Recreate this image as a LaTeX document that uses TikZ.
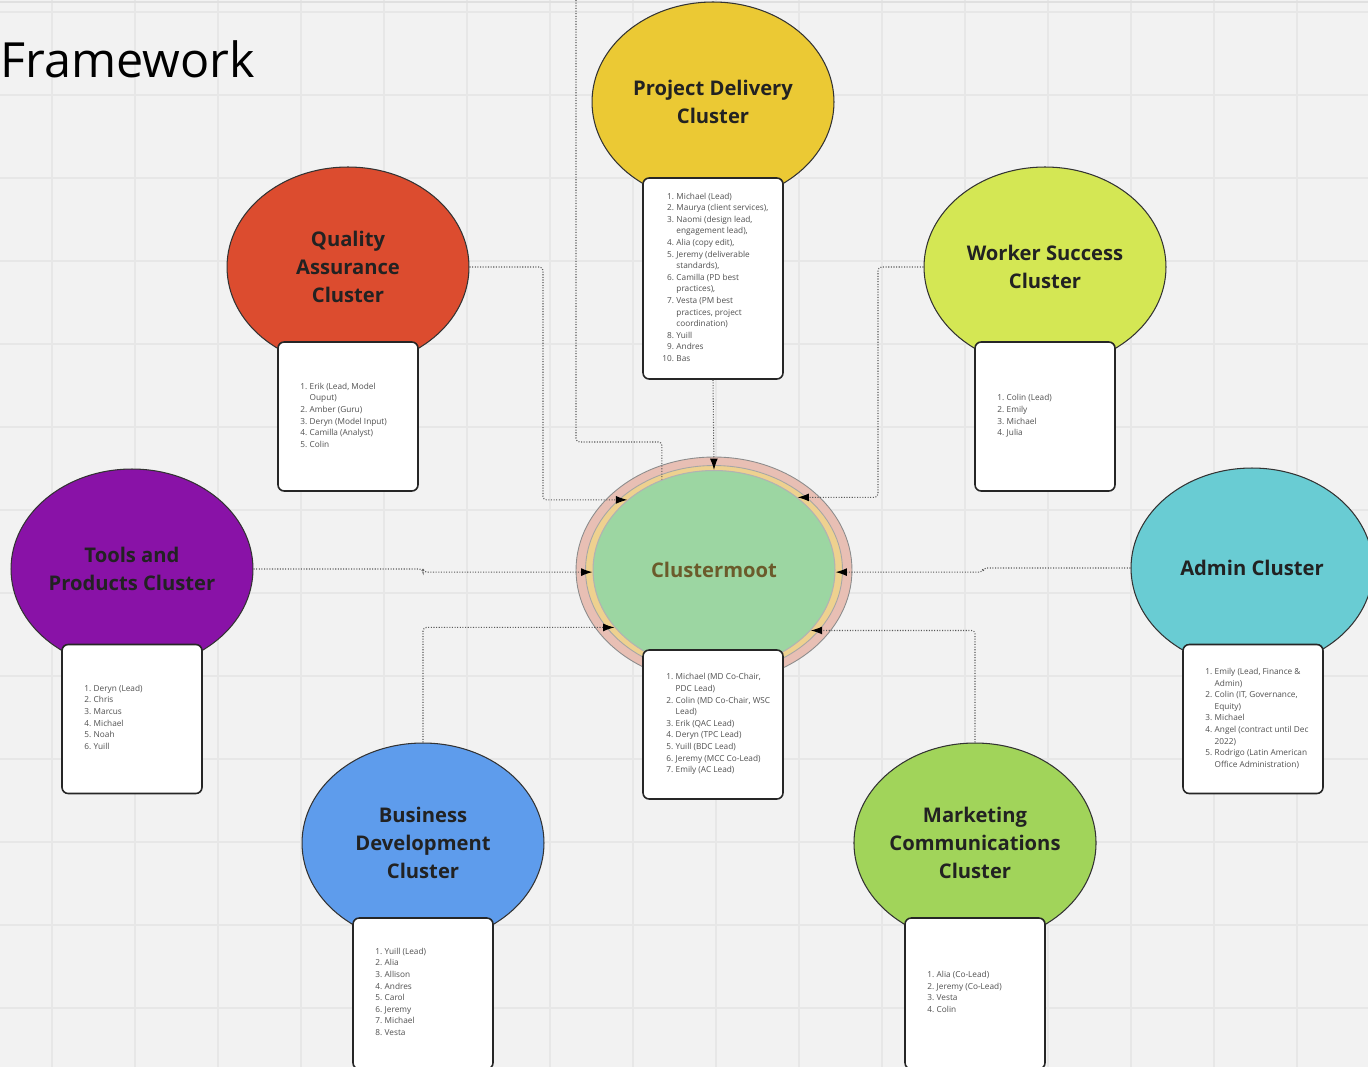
\documentclass[tikz,border=0pt]{standalone}
\usepackage{fontspec}
\setmainfont{Open Sans}
\usetikzlibrary{shapes.geometric, arrows.meta}

\definecolor{boardgray}{HTML}{F2F2F2}
\definecolor{gridgray}{HTML}{E7E7E7}
\definecolor{pdyellow}{HTML}{EBC934}
\definecolor{qared}{HTML}{DC4C2F}
\definecolor{wslime}{HTML}{D4E754}
\definecolor{tppurple}{HTML}{8912A7}
\definecolor{acteal}{HTML}{69CCD3}
\definecolor{bdblue}{HTML}{5E9CEC}
\definecolor{mcgreen}{HTML}{A1D45A}
\definecolor{mootpink}{HTML}{E8BFB4}
\definecolor{mootgold}{HTML}{EED18F}
\definecolor{mootgreen}{HTML}{9CD6A2}
\definecolor{mootword}{HTML}{6B5B2B}
\definecolor{titleink}{HTML}{222222}
\definecolor{listink}{HTML}{505050}

\tikzset{
  cluster/.style={ellipse, draw=black!80, line width=0.6pt, inner sep=0pt,
    minimum width=4.84cm, minimum height=4cm, align=center, text=titleink,
    font=\bfseries\fontsize{11.5}{15.9}\selectfont},
  listbox/.style={draw=black!85, fill=white, rounded corners=3.5pt, line width=0.9pt,
    minimum width=2.8cm, minimum height=2.98cm},
  names/.style={anchor=west, inner sep=0pt, text=listink,
    font=\fontsize{4.7}{6.6}\selectfont},
  feed/.style={draw=black!65, dash pattern=on 0.6pt off 0.9pt, line width=0.6pt,
    rounded corners=2pt},
  tip/.style={-{Latex[length=6.5pt,width=4.5pt,black]}}
}

\begin{document}
\begin{tikzpicture}[x=0.02cm, y=-0.02cm]
\useasboundingbox (0,0) rectangle (1368,1067);
\fill[boardgray] (0,0) rectangle (1368,1067);
\foreach \gx in {52,135,...,1368} \draw[gridgray, line width=0.6pt] (\gx,0) -- (\gx,1067);
\foreach \gy in {12,95,...,1067} \draw[gridgray, line width=0.6pt] (0,\gy) -- (1368,\gy);
\draw[black!12, line width=0.8pt] (0,2) -- (1368,2);

\node[anchor=base west, inner sep=0pt, font=\fontsize{27.6}{32}\selectfont] (Title) at (0,78) {Framework};

% clusters
\node[cluster, fill=pdyellow] (Delivery) at (713,102) {Project Delivery\\Cluster};
\node[cluster, fill=qared] (Quality) at (348,267) {Quality\\Assurance\\Cluster};
\node[cluster, fill=wslime] (Worker) at (1045,267) {Worker Success\\Cluster};
\node[cluster, fill=tppurple] (Tools) at (132,569) {Tools and\\Products Cluster};
\node[cluster, fill=acteal] (Admin) at (1252,568) {Admin Cluster};
\node[cluster, fill=bdblue] (Business) at (423,843) {Business\\Development\\Cluster};
\node[cluster, fill=mcgreen] (Marketing) at (975,843) {Marketing\\Communications\\Cluster};

\node[ellipse, draw=black!45, fill=mootpink, line width=0.5pt, minimum width=5.52cm, minimum height=4.52cm] (Moot Outer) at (714,570) {};
\node[ellipse, draw=black!35, fill=mootgold, line width=0.5pt, minimum width=5.14cm, minimum height=4.18cm] (Moot Ring) at (714,570) {};
\node[cluster, draw=black!30, fill=mootgreen, text=mootword, minimum height=3.98cm] (Clustermoot) at (714,570) {Clustermoot};

% member lists
\node[listbox, minimum height=4.02cm] (Delivery List) at (713,278.5) {};
\node[names] (Delivery Names) at (662,278) {\begin{tabular}{@{}r@{\hspace{1.4pt}}l@{}}
1. & Michael (Lead)\\
2. & Maurya (client services),\\
3. & Naomi (design lead,\\
 & engagement lead),\\
4. & Alia (copy edit),\\
5. & Jeremy (deliverable\\
 & standards),\\
6. & Camilla (PD best\\
 & practices),\\
7. & Vesta (PM best\\
 & practices, project\\
 & coordination)\\
8. & Yuill\\
9. & Andres\\
10. & Bas
\end{tabular}};

\node[listbox] (Quality List) at (348,416.5) {};
\node[names] (Quality Names) at (300,416) {\begin{tabular}{@{}r@{\hspace{1.4pt}}l@{}}
1. & Erik (Lead, Model\\
 & Ouput)\\
2. & Amber (Guru)\\
3. & Deryn (Model Input)\\
4. & Camilla (Analyst)\\
5. & Colin
\end{tabular}};

\node[listbox] (Worker List) at (1045,416.5) {};
\node[names] (Worker Names) at (997,416) {\begin{tabular}{@{}r@{\hspace{1.4pt}}l@{}}
1. & Colin (Lead)\\
2. & Emily\\
3. & Michael\\
4. & Julia
\end{tabular}};

\node[listbox] (Tools List) at (132,719) {};
\node[names] (Tools Names) at (84,718) {\begin{tabular}{@{}r@{\hspace{1.4pt}}l@{}}
1. & Deryn (Lead)\\
2. & Chris\\
3. & Marcus\\
4. & Michael\\
5. & Noah\\
6. & Yuill
\end{tabular}};

\node[listbox] (Moot List) at (713,724.5) {};
\node[names] (Moot Names) at (666,724) {\begin{tabular}{@{}r@{\hspace{1.4pt}}l@{}}
1. & Michael (MD Co-Chair,\\
 & PDC Lead)\\
2. & Colin (MD Co-Chair, WSC\\
 & Lead)\\
3. & Erik (QAC Lead)\\
4. & Deryn (TPC Lead)\\
5. & Yuill (BDC Lead)\\
6. & Jeremy (MCC Co-Lead)\\
7. & Emily (AC Lead)
\end{tabular}};

\node[listbox] (Admin List) at (1253,719) {};
\node[names] (Admin Names) at (1205,718.5) {\begin{tabular}{@{}r@{\hspace{1.4pt}}l@{}}
1. & Emily (Lead, Finance \&\\
 & Admin)\\
2. & Colin (IT, Governance,\\
 & Equity)\\
3. & Michael\\
4. & Angel (contract until Dec\\
 & 2022)\\
5. & Rodrigo (Latin American\\
 & Office Administration)
\end{tabular}};

\node[listbox, minimum height=3.02cm] (Business List) at (423,993.5) {};
\node[names] (Business Names) at (375,992.5) {\begin{tabular}{@{}r@{\hspace{1.4pt}}l@{}}
1. & Yuill (Lead)\\
2. & Alia\\
3. & Allison\\
4. & Andres\\
5. & Carol\\
6. & Jeremy\\
7. & Michael\\
8. & Vesta
\end{tabular}};

\node[listbox, minimum height=3.02cm] (Marketing List) at (975,993.5) {};
\node[names] (Marketing Names) at (927,992.5) {\begin{tabular}{@{}r@{\hspace{1.4pt}}l@{}}
1. & Alia (Co-Lead)\\
2. & Jeremy (Co-Lead)\\
3. & Vesta\\
4. & Colin
\end{tabular}};

% links into the clustermoot
\coordinate (Top In) at (576,0);
\draw[feed] (Top In) -- (576,442) -| (Clustermoot.120);
\draw[feed, tip] (Delivery List.south) -- (Clustermoot.north);
\draw[feed, tip] (Quality.east) -- (543,267) |- (Clustermoot.141);
\draw[feed, tip] (Worker.west) -- (878,267) |- (Clustermoot.41);
\draw[feed, tip] (Tools.east) -- (423,569) |- (Clustermoot.181);
\draw[feed, tip] (Admin.west) -- (983,568) |- (Clustermoot.359);
\draw[feed, tip] (Business.north) |- (Clustermoot.210);
\draw[feed, tip] (Marketing.north) |- (Clustermoot.328);
\end{tikzpicture}
\end{document}
